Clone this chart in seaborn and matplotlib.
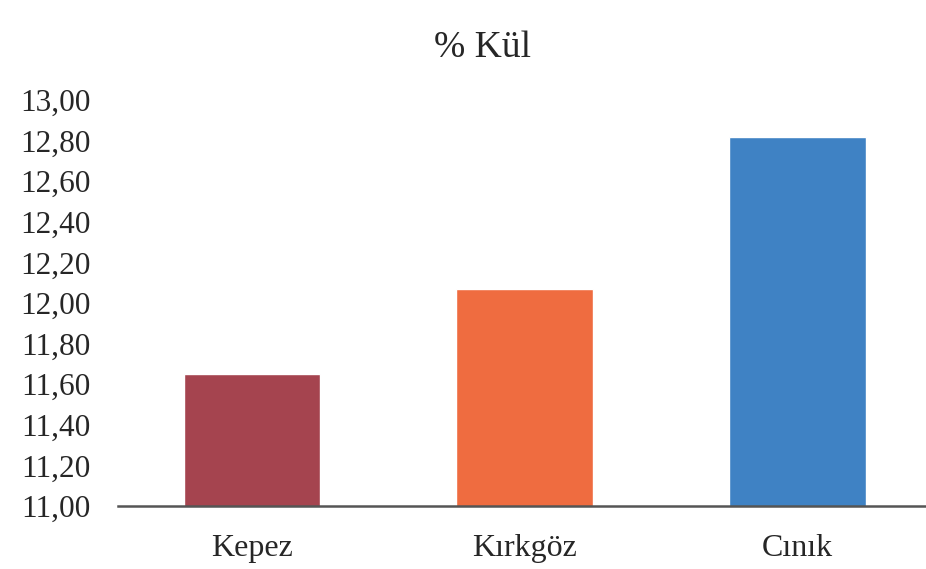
import pandas as pd
import matplotlib.pyplot as plt
import seaborn as sns

# Data
locations = ['Kepez', 'Kırkgöz', 'Cınık']
ash_pct = [11.65, 12.07, 12.82]
bar_colors = ['#A5444F', '#EF6C40', '#3F82C4']
y_ticks = [11.0, 11.2, 11.4, 11.6, 11.8, 12.0, 12.2, 12.4, 12.6, 12.8, 13.0]

sns.set_style('white')
plt.rcParams['font.family'] = ['Liberation Serif', 'DejaVu Serif']

df = pd.DataFrame({'Yer': locations, 'Kul': ash_pct})

fig = plt.figure(figsize=(9.26, 5.69), dpi=100)
ax = fig.add_axes([118 / 926, 63 / 569, 808 / 926, 406 / 569])

sns.barplot(data=df, x='Yer', y='Kul', hue='Yer', palette=bar_colors,
            width=0.5, legend=False, ax=ax, saturation=1)

ax.set_ylim(11.0, 13.0)
ax.set_xlim(-0.49, 2.47)
ax.set_yticks(y_ticks)
ax.set_yticklabels([f'{v:.2f}'.replace('.', ',') for v in y_ticks], fontsize=22.5)
ax.tick_params(axis='x', labelsize=23, pad=20, length=0)
ax.tick_params(axis='y', pad=20, length=0)
ax.set_xlabel('')
ax.set_ylabel('')

for side in ['top', 'right', 'left']:
    ax.spines[side].set_visible(False)
ax.spines['bottom'].set_color('#555555')
ax.spines['bottom'].set_linewidth(1.8)
ax.grid(False)

fig.text(483 / 926, 1 - 48 / 569, '% Kül', ha='center', va='center', fontsize=27)

fig.savefig('out.png', dpi=100)
